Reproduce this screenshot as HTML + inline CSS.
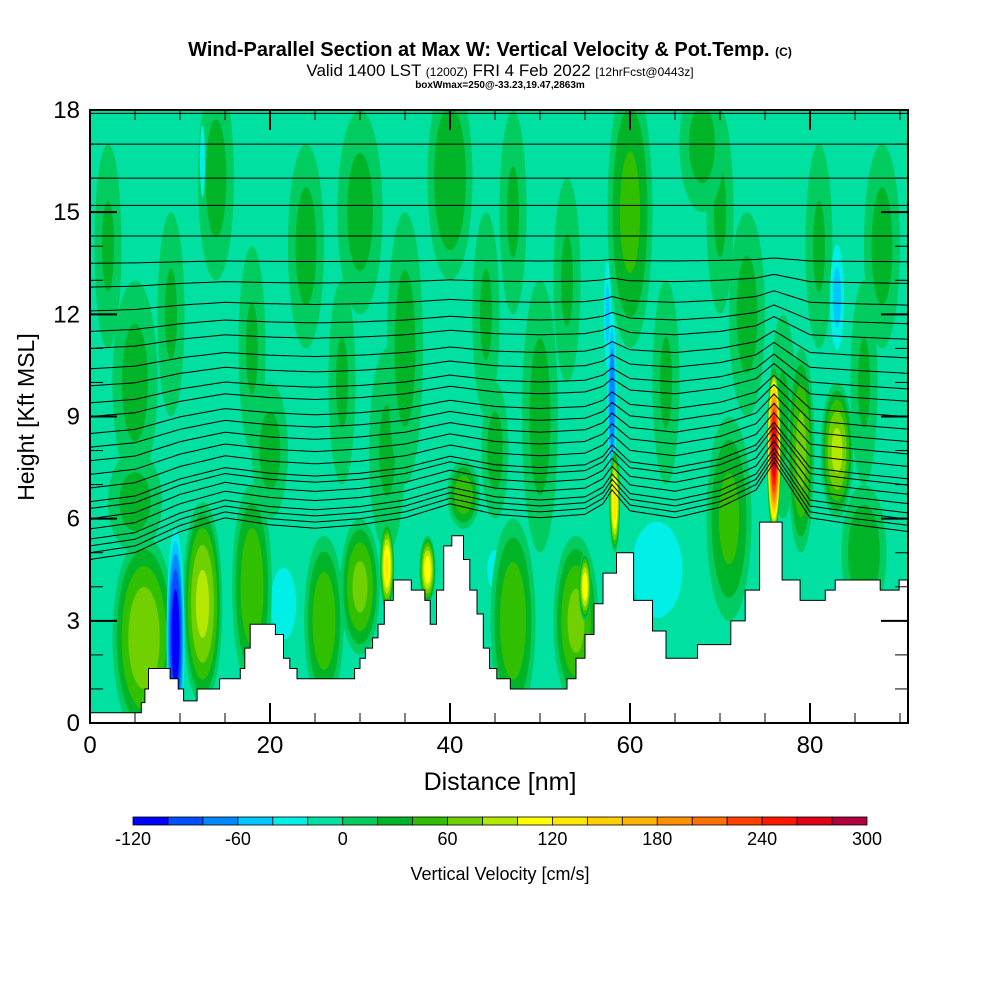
<!DOCTYPE html>
<html><head><meta charset="utf-8"><style>
body{margin:0;background:#fff;width:1000px;height:1000px;overflow:hidden}
svg{display:block;font-family:"Liberation Sans",Arial,sans-serif}
</style></head><body>
<svg id="s" width="1000" height="1000" viewBox="0 0 1000 1000">
<defs><clipPath id="pc"><rect x="90" y="110" width="818" height="613"/></clipPath></defs>
<text x="490" y="56" text-anchor="middle" font-size="20" font-weight="bold">Wind-Parallel Section at Max W: Vertical Velocity &amp; Pot.Temp. <tspan font-size="12">(C)</tspan></text>
<text x="500" y="76" text-anchor="middle" font-size="17">Valid 1400 LST <tspan font-size="12">(1200Z)</tspan> FRI 4 Feb 2022 <tspan font-size="12">[12hrFcst@0443z]</tspan></text>
<text x="500" y="88" text-anchor="middle" font-size="10" font-weight="bold">boxWmax=250@-33.23,19.47,2863m</text>
<g id="plot" clip-path="url(#pc)"></g>
<g id="axes"></g>
<g id="cbar"></g>
<text x="500" y="790" text-anchor="middle" font-size="25">Distance [nm]</text>
<text transform="translate(34,417) rotate(-90)" text-anchor="middle" font-size="23">Height [Kft MSL]</text>
<text x="500" y="880" text-anchor="middle" font-size="18">Vertical Velocity [cm/s]</text>
</svg>
<script>
const NS="http://www.w3.org/2000/svg";
// ---- data ----
const levelColors=["#0000ff","#0050ff","#0088ff","#00c8ff","#00f0e8","#00e0a0","#00cc60","#00b428","#30c000","#70d000","#b4e800","#ffff00","#ffe800","#ffd000","#ffb400","#ff9000","#ff7000","#ff4000","#ff1800","#e00018","#b00040"];
const levelTicks=[-120,-60,0,60,120,180,240,300];
const xTicks=[0,20,40,60,80];
const yTicks=[0,3,6,9,12,15,18];
// plumes: center x (nm), center z (kft), half-width (nm), half-height (kft), peak w (cm/s)
const plumeX=[5,14,24,30,35,40,50,60,68,73,88,2,9,18,28,33,44,47,53,64,70,77,81,86,20,45,5,6,12.5,18,26,30,33,37.5,41.5,47,54,55,58.3,79,83,86,71,21.5,63,45,76,9.5,58,83,12.5,57.5];
const plumeZ=[10,16,14,15,11,16,9,15,17,12,14,14,12,11,10,8,12,15,13,10,15,9,14,10,8,8,6.5,2.5,3.5,4,3,4,4.6,4.5,6.7,3,3,4,6.5,8,8,5,6,3.5,4.5,4.5,8,2.5,9.5,12.5,16.5,12];
const plumeRX=[2.5,2,2,2.5,2,2.5,2,2.5,2.5,2,2,1.5,1.5,1.5,1.5,2,1.5,1.5,1.5,1.5,1.5,1.5,1.5,1.5,2,1.5,3,3.5,2.2,2.2,2.2,2.2,0.8,0.9,1.8,2.5,2.5,0.7,0.6,1.5,1.8,2.5,2.5,2,4,1.5,0.8,1.1,0.6,1,0.4,0.5];
const plumeRZ=[3,3,3,3,4,3,4,4,2,3,3,3,3,3,3,3,3,3,3,3,3,3,3,3,2,2,1.5,3,3,3,2.5,2,1.3,1,1,3,2.5,1,1.5,3,2,2,3,1.5,2,1,2.5,3.5,3,2,1.5,2];
const plumeW=[30,30,30,30,30,40,30,50,30,30,30,25,25,25,25,25,25,25,25,25,25,25,25,25,30,30,30,80,90,60,60,70,130,120,60,60,70,120,140,70,90,40,50,-40,-40,-30,290,-120,-80,-50,-40,-50];
// terrain steps: [start nm, height kft]
const terrX=[0,5.7,6.1,6.5,8.9,9.8,10.4,11.9,14.4,16.7,17.2,17.8,19.2,20.6,21.5,22.2,23,29.4,30,30.6,31.4,32,32.7,33.7,35.7,37.2,37.8,38.5,39.3,40.2,41.5,42.2,43,43.7,44.4,45.2,46.7,53,54,55,56,57,58.5,60.4,62.5,64,67.5,71.2,72.8,74.4,76.9,78.9,81.7,82.8,87.8,89.9];
const terrZ=[0.3,0.6,1.0,1.6,1.3,1.0,0.65,1.0,1.3,1.6,2.2,2.9,2.9,2.6,1.9,1.6,1.3,1.6,1.9,2.2,2.5,2.9,3.6,4.2,3.9,3.6,2.9,3.9,5.2,5.5,4.8,3.9,3.2,2.2,1.6,1.3,1.0,1.3,1.9,2.6,3.5,4.4,5.0,3.6,2.7,1.9,2.3,3.0,3.9,5.9,4.2,3.6,3.9,4.2,3.9,4.2];
// potential temperature lines: height at left edge (kft)
const thetaBase=[17.9,17.0,16.0,15.2,14.3,13.5,12.8,12.1,11.5,11.0,10.4,9.9,9.4,9.0,8.5,8.1,7.7,7.3,6.9,6.5,6.3,6.0,5.7,5.4,5.2,5.0,4.8];
const dispX=[0,5,10,15,20,25,30,35,40,45,50,55,57,58,60,65,70,74,76,78,80,85,91];
const dispZ=[0,0.2,0.8,1.2,1.0,0.9,1.0,1.2,1.6,1.3,1.2,1.3,1.6,2.0,1.4,1.2,1.5,2.0,2.8,2.0,1.2,1.0,0.8];
// ---- scales ----
const X=v=>90+v*9, Y=v=>723-v*(613/18);
function lvl(w){return Math.max(0,Math.min(20,Math.floor((w+120)/20)));}
function el(tag,attrs,parent){const e=document.createElementNS(NS,tag);for(const k in attrs)e.setAttribute(k,attrs[k]);parent.appendChild(e);return e;}
const plot=document.getElementById('plot');
const bg=el('rect',{x:90,y:110,width:818,height:613,fill:levelColors[5]},plot);


// plumes as nested ellipses
const order=plumeW.map((w,i)=>i).sort((a,b)=>Math.abs(plumeW[a])-Math.abs(plumeW[b]));
order.forEach(i=>{
  const w=plumeW[i];const g=el('g',{},plot);
  
  
  const sign=w>0?1:-1;
  for(let t=(w>0?0:-20);sign*t<sign*w;t+=sign*20){
    const f=Math.sqrt(1-Math.abs(t)/Math.abs(w));
    const c=w>0?levelColors[lvl(t+1)]:levelColors[lvl(t-1)];
    el('ellipse',{cx:X(plumeX[i]),cy:Y(plumeZ[i]),rx:plumeRX[i]*9*f,ry:plumeRZ[i]*34*f,fill:c},g);
  }
});
// theta contours
function disp(x){for(let k=0;k<dispX.length-1;k++){if(x<=dispX[k+1]){const t=(x-dispX[k])/(dispX[k+1]-dispX[k]);return dispZ[k]+t*(dispZ[k+1]-dispZ[k]);}}return dispZ[dispZ.length-1];}
thetaBase.forEach((b,i)=>{
  const amp=Math.max(0,(14-b)/9);let d="";
  for(let x=0;x<=91;x+=0.5){d+=(x?"L":"M")+X(x).toFixed(1)+","+Y(b+disp(x)*amp).toFixed(1);}
  const p=el('path',{d:d,fill:"none",stroke:"#000","stroke-width":1},plot);
  
  
});
// terrain
let td="M"+X(0)+","+Y(0);
terrX.forEach((x,i)=>{const x2=i<terrX.length-1?terrX[i+1]:92;td+="L"+X(x)+","+Y(terrZ[i])+"L"+X(x2)+","+Y(terrZ[i]);});
td+="L"+X(92)+","+Y(-1)+"L"+X(0)+","+Y(-1)+"Z";
const tp=el('path',{d:td,fill:"#fff",stroke:"#000","stroke-width":1},plot);


// axes
const ax=document.getElementById('axes');
const frame=el('rect',{x:90,y:110,width:818,height:613,fill:"none",stroke:"#000","stroke-width":2},ax);


for(let v=0;v<=18;v+=1){const maj=v%3==0;const len=maj?27:13;
  el('line',{x1:90,x2:90+len,y1:Y(v),y2:Y(v),stroke:"#000","stroke-width":maj?2:1},ax);
  el('line',{x1:908,x2:908-len,y1:Y(v),y2:Y(v),stroke:"#000","stroke-width":maj?2:1},ax);}
for(let v=0;v<=90;v+=5){const maj=v%20==0;const len=maj?20:10;
  el('line',{x1:X(v),x2:X(v),y1:723,y2:723-len,stroke:"#000","stroke-width":maj?2:1},ax);
  el('line',{x1:X(v),x2:X(v),y1:110,y2:110+len,stroke:"#000","stroke-width":maj?2:1},ax);}
yTicks.forEach(v=>{const t=el('text',{x:80,y:Y(v)+8,"text-anchor":"end","font-size":24},ax);t.textContent=v;
  
  });
xTicks.forEach(v=>{const t=el('text',{x:X(v),y:753,"text-anchor":"middle","font-size":24},ax);t.textContent=v;
  
  });
// colorbar
const cb=document.getElementById('cbar');
const bw=734/levelColors.length;
levelColors.forEach((c,i)=>{const r=el('rect',{x:133+i*bw,y:817,width:bw,height:8,fill:c,stroke:"#000","stroke-width":0.8},cb);
  
  });
levelTicks.forEach(v=>{const t=el('text',{x:133+(v+120)/20*bw,y:845,"text-anchor":"middle","font-size":18},cb);t.textContent=v;
  
  });
</script>
</body></html>
